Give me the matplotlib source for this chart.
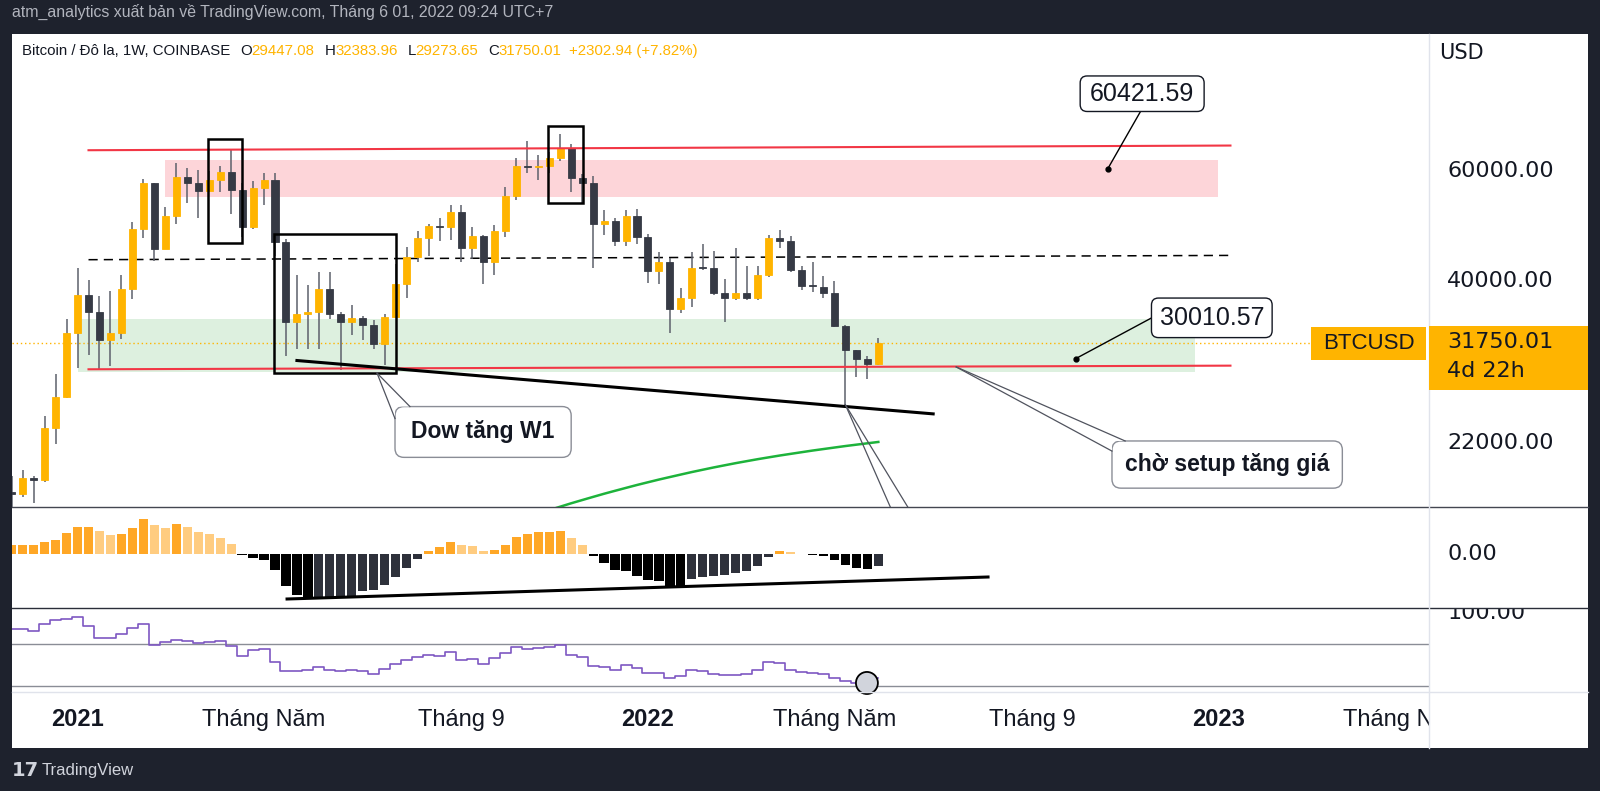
import numpy as np
import matplotlib
matplotlib.use("Agg")
import matplotlib.pyplot as plt
import matplotlib.transforms as mtrans
from matplotlib.patches import Rectangle, FancyBboxPatch, Polygon, Ellipse
from matplotlib.lines import Line2D

plt.rcParams['font.family'] = ['Liberation Sans', 'DejaVu Sans']

W, H = 1600, 791

# weekly bars, bar 0 = week of 30 Nov 2020 (bar -1 is cut at the left edge)
bars = np.arange(-1, 79)
opens = [18360, 18180, 19300, 19150, 23200, 26000, 33000, 38000, 35600, 32200,
         33000, 38800, 48400, 57400, 45000, 50900, 58700, 57300, 55700, 58100,
         59800, 56000, 48700, 56300, 58100, 46200, 34400, 35400, 35600, 38800,
         35400, 34300, 34900, 34000, 31700, 35000, 39600, 43600, 46850, 48970,
         48800, 51500, 45100, 47200, 42800, 48100, 54800, 61200, 60900, 61100,
         63000, 65200, 58500, 57300, 49300, 49900, 46400, 50800, 47100, 41500,
         42800, 36000, 37600, 42100, 42000, 38200, 37500, 38200, 37500, 40900,
         46800, 46300, 41700, 39400, 39100, 38200, 33800, 31000, 30000, 29447.08]
highs = [19420, 19900, 19450, 24300, 28400, 34800, 41900, 40100, 37800, 38500,
         40900, 49700, 58300, 57500, 52600, 61800, 60700, 60300, 60100, 61200,
         64800, 57500, 57900, 59500, 59600, 46600, 40800, 39400, 41300, 41300,
         35600, 36600, 35100, 34600, 35400, 42600, 45300, 48100, 49400, 50500,
         52900, 52900, 48800, 47400, 49200, 56600, 62900, 67000, 63700, 64300,
         68900, 66300, 59300, 59000, 51900, 50400, 51900, 52100, 47600, 44500,
         43500, 38900, 44500, 45800, 44700, 40300, 45100, 42300, 42300, 47400,
         48200, 47200, 42300, 42900, 40700, 40000, 34000, 31000, 30300, 32383.96]
lows = [16200, 18000, 17600, 19000, 21900, 25900, 29000, 30400, 28800, 29200,
        32300, 37400, 46900, 43000, 44900, 49300, 53300, 50400, 55500, 55500,
        51200, 47100, 48500, 53000, 43800, 30300, 31100, 31100, 31100, 34800,
        28800, 32700, 32100, 31100, 29300, 34900, 37500, 42800, 43900, 46400,
        46500, 42800, 43400, 39600, 40800, 47100, 53900, 59600, 58000, 59500,
        62300, 55600, 53300, 42000, 47300, 45500, 45500, 45800, 39700, 39600,
        33000, 35500, 36300, 41700, 37900, 34300, 37200, 37200, 37200, 40500,
        45200, 41300, 38600, 38400, 37600, 33700, 25300, 28000, 27800, 29273.65]
closes = [18180, 19300, 19150, 23200, 26000, 33000, 38000, 35600, 32200, 33000,
          38800, 48400, 57400, 45000, 50900, 58700, 57300, 55700, 58100, 59800,
          56000, 48700, 56300, 58100, 46200, 34400, 35400, 35600, 38800, 35400,
          34300, 34900, 34000, 31700, 35000, 39600, 43600, 46850, 48970, 48800,
          51500, 45100, 47200, 42800, 48100, 54800, 61200, 60900, 61100, 63000,
          65200, 58500, 57300, 49300, 49900, 46400, 50800, 47100, 41500, 42800,
          36000, 37600, 42000, 42000, 38200, 37500, 38200, 37500, 40900, 46800,
          46300, 41700, 39300, 39300, 38200, 33800, 31000, 30000, 29447.08, 31750.01]

ma_bars = np.arange(48, 79)
ma_vals = [17150, 17370, 17590, 17800, 18010, 18220, 18420, 18620, 18820, 19010,
           19200, 19380, 19560, 19740, 19910, 20080, 20240, 20400, 20550, 20700,
           20840, 20980, 21110, 21240, 21370, 21490, 21610, 21730, 21840, 21950, 22060]

macd_hist = [870, 930, 930, 1200, 1430, 2070, 2670, 2730, 2330, 1930,
             2000, 2600, 3500, 2870, 2630, 2970, 2730, 2230, 2000, 1600,
             1000, -130, -400, -570, -1570, -3230, -4070, -4500, -4480, -4400,
             -4300, -4230, -3730, -3570, -3130, -2300, -1400, -470, 270, 700,
             1170, 930, 770, 330, 430, 930, 1700, 2030, 2170, 2200,
             2270, 1600, 930, -230, -900, -1630, -1730, -2170, -2570, -2730,
             -3170, -3230, -2500, -2300, -2170, -2070, -1900, -1730, -1170, -300,
             270, 230, 30, -130, -230, -630, -1070, -1400, -1500, -1230]

rsi = [84, 84, 82, 89, 92.6, 93.9, 95.4, 86.7, 75.4, 75.4,
       80, 85, 89, 69, 72, 74, 73, 71, 72, 73,
       68, 58.5, 64.5, 65, 53, 44.2, 44.6, 45.2, 47.8, 45.2,
       44.6, 45, 44, 41.4, 46, 51, 54.8, 58, 59.2, 58.6,
       62, 54.8, 55.7, 51, 56.4, 61.8, 66.8, 65.3, 66, 67.5,
       69, 59.5, 58, 49, 48.4, 45.2, 50, 46.7, 42.6, 42,
       37.3, 39.5, 45.2, 44.2, 41.4, 40.5, 40.8, 41.4, 45.2, 53,
       52, 45.2, 43.6, 42.6, 41.4, 37.3, 35.1, 33.2, 32.6, 37.3]

time_ticks = [5, 22, 40, 57, 74, 92, 109, 126]
time_labels = ["2021", "Tháng Năm", "Tháng 9", "2022", "Tháng Năm", "Tháng 9", "2023", "Tháng Năm"]
price_ticks = [22000, 40000, 60000]
last_price = 31750.01

UP = '#ffb400'
DOWN = '#363a45'
WICK = '#5d606b'
BG = '#1e222d'
RED = '#f23645'
INK = '#131722'
ID = mtrans.IdentityTransform()


def rect(x0, y0, x1, y1):
    return [x0 / W, 1 - y1 / H, (x1 - x0) / W, (y1 - y0) / H]


fig = plt.figure(figsize=(W / 100, H / 100), dpi=100, facecolor=BG)
fig.add_artist(Rectangle((12 / W, 1 - 748 / H), 1576 / W, 714 / H,
                         transform=fig.transFigure, fc='white', ec='none', zorder=-5))

ax = fig.add_axes(rect(12, 34, 1429, 507))
ax_macd = fig.add_axes(rect(12, 507, 1429, 608))
ax_rsi = fig.add_axes(rect(12, 608, 1429, 692))
ax_time = fig.add_axes(rect(12, 692, 1429, 748))
sc_main = fig.add_axes(rect(1429, 34, 1588, 507))
sc_macd = fig.add_axes(rect(1429, 507, 1588, 608))
sc_rsi = fig.add_axes(rect(1429, 608, 1588, 692))
for a in (ax, ax_macd, ax_rsi, ax_time, sc_main, sc_macd, sc_rsi):
    a.set_axis_off()
for a in (ax, ax_macd, ax_rsi, ax_time):
    a.set_xlim(-0.975, 128.2)
for a in (sc_main, sc_macd, sc_rsi):
    a.set_xlim(0, 1)

ax.set_yscale('log')
ax.set_ylim(17350, 99500)
sc_main.set_yscale('log')
sc_main.set_ylim(17350, 99500)
ax_macd.set_ylim(-5400, 4700)
sc_macd.set_ylim(-5400, 4700)
ax_rsi.set_ylim(24.3, 104.3)
sc_rsi.set_ylim(24.3, 104.3)

# ---- candles ----
o = np.array(opens); c = np.array(closes)
cols = [UP if cc >= oo else DOWN for oo, cc in zip(o, c)]
ax.vlines(bars, lows, highs, colors=WICK, lw=1.1, zorder=3)
ax.bar(bars, np.abs(c - o), bottom=np.minimum(o, c), width=0.64,
       color=cols, edgecolor=cols, lw=0.6, zorder=4)

# zones and drawings
ax.fill_between([13.0, 109.0], 54590, 62590, color='#fdd5d9', lw=0, zorder=1)
ax.fill_between([5.0, 106.9], 28560, 34750, color='#ddf0df', lw=0, zorder=1)
ax.plot([6.0, 110.1], [64780, 65910], color=RED, lw=1.5, zorder=5)
ax.plot([6.0, 110.1], [28850, 29240], color=RED, lw=1.5, zorder=5)
ax.plot([6.0, 110.1], [43240, 43930], color='black', lw=1.1, ls=(0, (6, 4)), zorder=2)
ax.plot([25.0, 83.0], [29800, 24470], color='black', lw=2.2, zorder=5)
ax.plot(ma_bars, ma_vals, color='#1db33b', lw=1.8, zorder=5)
for (x0, p0, x1, p1) in [(16.9, 46040, 20.0, 67640), (47.9, 53380, 51.1, 70970),
                         (22.9, 28450, 34.0, 47600)]:
    ax.add_patch(Rectangle((x0, p0), x1 - x0, p1 - p0, fill=False, ec='black', lw=1.8, zorder=6))
ax.plot([0, 0.9167], [last_price, last_price], color=UP, lw=1.0, ls=(0, (1, 2)),
        transform=mtrans.blended_transform_factory(ax.transAxes, ax.transData), zorder=2)
# tail of a callout whose box is below the pane
ax.plot([75.0, 80.4], [25300, 15380], color='#50535e', lw=0.9, zorder=6)
ax.plot([75.0, 82.5], [25300, 15380], color='#50535e', lw=0.9, zorder=6)

# ---- MACD histogram ----
hist = np.array(macd_hist)
hcols = []
for i, h in enumerate(hist):
    prev = hist[i - 1] if i > 0 else h
    if h >= 0:
        hcols.append('#ffa726' if h >= prev else '#ffcc80')
    else:
        hcols.append('#000000' if h <= prev else '#2e313b')
ax_macd.bar(bars, hist, width=0.84, color=hcols, zorder=3)
ax_macd.plot([24.1, 88.0], [-4500, -2300], color='black', lw=2.2, zorder=4)

# ---- RSI ----
ax_rsi.axhline(70, color='#8a8d96', lw=1.0)
ax_rsi.axhline(30, color='#8a8d96', lw=1.0)
ax_rsi.step(bars, rsi, where='mid', color='#7e57c2', lw=1.2, zorder=3)
ax_rsi.add_patch(Ellipse((76.96, 32.9), 2.0, 21, fc='#d1d4dc', ec='black', lw=1.3,
                         zorder=5, clip_on=False))

# ---- time axis ----
tt = mtrans.blended_transform_factory(ax_time.transData, ax_time.transAxes)
for b, lab in zip(time_ticks, time_labels):
    ax_time.text(b, 0.5, lab, transform=tt, ha='center', va='center', fontsize=17,
                 fontweight='bold' if lab.isdigit() else 'normal', color=INK, clip_on=True)

# ---- price scales ----
def scale_label(a, y, s):
    tr = mtrans.blended_transform_factory(a.transAxes, a.transData)
    a.text(0.115, y, s, transform=tr, ha='left', va='center', fontsize=16,
           family='DejaVu Sans', color=INK, clip_on=True)

for p in price_ticks:
    scale_label(sc_main, p, f'{p:.2f}')
scale_label(sc_macd, 0, '0.00')
scale_label(sc_rsi, 100, '100.00')
fig.text(1439 / W, 1 - 53 / H, 'USD', fontsize=15, family='DejaVu Sans', color=INK, va='center')

# separators
for y, col in [(507, '#434651'), (608, '#2a2e39'), (692, '#e0e3eb')]:
    fig.add_artist(Line2D([12 / W, 1588 / W], [1 - y / H, 1 - y / H], color=col, lw=1.0,
                          transform=fig.transFigure))
fig.add_artist(Line2D([1429 / W, 1429 / W], [1 - 34 / H, 1 - 748 / H], color='#e0e3eb', lw=1.0,
                      transform=fig.transFigure))


def to_px(a, x, y):
    return a.transData.transform((x, y))


# current price labels
yd = to_px(ax, 0, last_price)[1]
fig.add_artist(Rectangle((1311, yd - 16.5), 115, 33, transform=ID, fc=UP, ec='none', zorder=6))
fig.text(1368.5, yd, 'BTCUSD', transform=ID, ha='center', va='center', fontsize=16,
         color=INK, zorder=7)
fig.add_artist(Rectangle((1429, yd - 46.4), 159, 64, transform=ID, fc=UP, ec='none', zorder=6))
fig.text(1447, yd + 1, f'{last_price:.2f}', transform=ID, ha='left', va='center', fontsize=16,
         family='DejaVu Sans', color=INK, zorder=7)
fig.text(1447, yd - 28, '4d 22h', transform=ID, ha='left', va='center', fontsize=16,
         family='DejaVu Sans', color=INK, zorder=7)


def callout(box, text, tip, b1, b2):
    x0, y0 = to_px(ax, box[0], box[1])
    x1, y1 = to_px(ax, box[2], box[3])
    fig.add_artist(FancyBboxPatch((x0, y0), x1 - x0, y1 - y0, transform=ID,
                                  boxstyle='round,pad=0,rounding_size=9',
                                  fc='white', ec='#8a8d96', lw=1.0, zorder=8))
    t = to_px(ax, *tip); p1 = to_px(ax, *b1); p2 = to_px(ax, *b2)
    fig.add_artist(Polygon([t, p1, (x0, y1), p2], closed=True, transform=ID,
                           fc='white', ec='none', zorder=9))
    for p in (p1, p2):
        fig.add_artist(Line2D([t[0], p[0]], [t[1], p[1]], transform=ID, color='#50535e',
                              lw=0.9, zorder=10))
    fig.text((x0 + x1) / 2, (y0 + y1) / 2, text, transform=ID, ha='center', va='center',
             fontsize=16.5, fontweight='bold', color=INK, zorder=11)


callout((33.94, 20840, 50.0, 25140), 'Dow tăng W1', (32.3, 28450), (33.94, 24050), (35.3, 25140))
callout((99.3, 18600, 120.3, 22140), 'chờ setup tăng giá', (85.1, 29100), (99.3, 21330), (100.5, 22140))


def price_note(box, text, dot, end):
    x0, y0 = to_px(ax, box[0], box[1])
    x1, y1 = to_px(ax, box[2], box[3])
    ax.plot([dot[0], end[0]], [dot[1], end[1]], color='black', lw=1.0, zorder=7)
    ax.plot([dot[0]], [dot[1]], 'o', color='black', ms=3.5, zorder=7)
    fig.add_artist(FancyBboxPatch((x0, y0), x1 - x0, y1 - y0, transform=ID,
                                  boxstyle='round,pad=0,rounding_size=7',
                                  fc='white', ec=INK, lw=1.0, zorder=8))
    fig.text((x0 + x1) / 2, (y0 + y1) / 2, text, transform=ID, ha='center', va='center',
             fontsize=18, color=INK, zorder=9)


price_note((96.4, 74740, 107.7, 85220), '60421.59', (98.9, 60421.59), (101.9, 74740))
price_note((102.9, 32430, 113.9, 37530), '30010.57', (96.0, 30010.57), (102.9, 34870))

# ---- legend / header ----
fig.text(12 / W, 1 - 12 / H, 'atm_analytics xuất bản về TradingView.com, Tháng 6 01, 2022 09:24 UTC+7',
         color='#b2b5be', fontsize=11.4, va='center')
legend = [('Bitcoin / Đô la, 1W, COINBASE', INK, 0), ('O', INK, 7), ('29447.08', UP, 0),
          ('H', INK, 7), ('32383.96', UP, 0), ('L', INK, 7), ('29273.65', UP, 0),
          ('C', INK, 7), ('31750.01', UP, 0), ('+2302.94 (+7.82%)', UP, 5)]
prev = None
for s, col, gap in legend:
    if prev is None:
        prev = fig.text(22 / W, 1 - 51 / H, s, color=col, fontsize=10.8, va='center')
    else:
        prev = ax.annotate(s, xy=(1, 0), xycoords=prev, xytext=(gap, 0),
                           textcoords='offset points', va='bottom', ha='left',
                           color=col, fontsize=10.8, annotation_clip=False)

fig.text(12 / W, 1 - 770 / H, '17', color='#d1d4dc', fontsize=14, fontweight='heavy',
         va='center', family='DejaVu Sans')
fig.text(42 / W, 1 - 770 / H, 'TradingView', color='#d1d4dc', fontsize=12, va='center')

fig.savefig('out.png', dpi=100, facecolor=BG)
